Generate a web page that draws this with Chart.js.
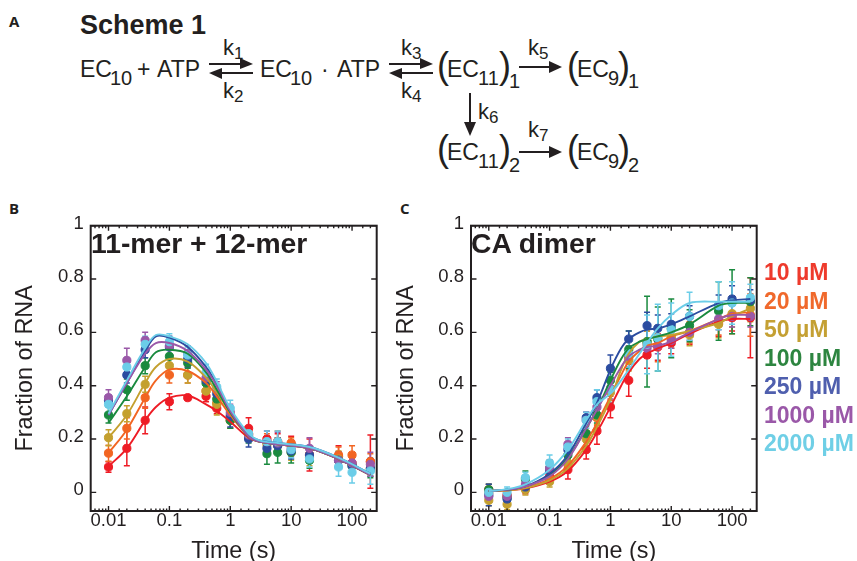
<!DOCTYPE html>
<html>
<head>
<meta charset="utf-8">
<title>Scheme 1</title>
<script src="https://cdn.jsdelivr.net/npm/chart.js@4"></script>
<style>
  html, body { margin: 0; padding: 0; background: #fff; }
  body { width: 857px; height: 561px; overflow: hidden; position: relative; font-family: "Liberation Sans", Arial, sans-serif; color: #231f20; }
  .box { position: absolute; }
  .box canvas { display: block; }
  .letter { position: absolute; font: bold 15px "Open Sans", sans-serif; line-height: 15px; }
  .panel-title { position: absolute; font: bold 28.3px "Liberation Sans", Arial, sans-serif; line-height: 28px; white-space: nowrap; }
  .conc { position: absolute; left: 764px; font: bold 23px "Liberation Sans", Arial, sans-serif; line-height: 24px; white-space: nowrap; }
  svg { position: absolute; left: 0; top: 0; }
  svg text { font-family: "Liberation Sans", Arial, sans-serif; fill: #231f20; }
  .main { font-size: 23px; }
  .sub { font-size: 20px; }
  .paren { font-size: 36px; }
  .k { font-size: 22px; }
  .ksub { font-size: 17px; }
</style>
</head>
<body>

<svg width="660" height="190" id="scheme">
  <text x="80" y="34" font-size="27" font-weight="bold">Scheme 1</text>

  <text class="main" x="80" y="77">EC</text><text class="sub" x="110" y="85">10</text>
  <text class="main" x="137" y="77">+</text><text class="main" x="157" y="77">ATP</text>
  <text class="main" x="260" y="77">EC</text><text class="sub" x="290" y="85">10</text>
  <text class="main" x="321" y="77">·</text><text class="main" x="337" y="77">ATP</text>

  <text class="paren" x="437" y="78">(</text><text class="main" x="447" y="77">EC</text><text class="sub" x="478" y="85">11</text>
  <text class="paren" x="499" y="78">)</text><text class="sub" x="509" y="88">1</text>
  <text class="paren" x="567" y="78">(</text><text class="main" x="577" y="77">EC</text><text class="sub" x="608" y="85">9</text>
  <text class="paren" x="618" y="78">)</text><text class="sub" x="628" y="88">1</text>

  <text class="paren" x="437" y="161">(</text><text class="main" x="447" y="160">EC</text><text class="sub" x="478" y="168">11</text>
  <text class="paren" x="499" y="161">)</text><text class="sub" x="509" y="172">2</text>
  <text class="paren" x="567" y="161">(</text><text class="main" x="577" y="160">EC</text><text class="sub" x="608" y="168">9</text>
  <text class="paren" x="618" y="161">)</text><text class="sub" x="628" y="172">2</text>

  <text class="k" x="223" y="55">k</text><text class="ksub" x="234" y="59">1</text>
  <text class="k" x="223" y="98">k</text><text class="ksub" x="234" y="102">2</text>
  <text class="k" x="401" y="55">k</text><text class="ksub" x="412" y="59">3</text>
  <text class="k" x="401" y="98">k</text><text class="ksub" x="412" y="102">4</text>
  <text class="k" x="528" y="55">k</text><text class="ksub" x="539" y="59">5</text>
  <text class="k" x="478" y="119">k</text><text class="ksub" x="489" y="123">6</text>
  <text class="k" x="528" y="137">k</text><text class="ksub" x="539" y="141">7</text>

  <g stroke="#231f20" stroke-width="2" fill="#231f20">
    <line x1="209" y1="64" x2="242" y2="64"/><polygon points="253,64 240,58 240,69" stroke="none"/>
    <line x1="220" y1="73" x2="253" y2="73"/><polygon points="209,73 222,68 222,79" stroke="none"/>
    <line x1="389" y1="64" x2="422" y2="64"/><polygon points="433,64 420,58 420,69" stroke="none"/>
    <line x1="400" y1="73" x2="433" y2="73"/><polygon points="389,73 402,68 402,79" stroke="none"/>
    <line x1="519" y1="67" x2="550" y2="67"/><polygon points="562,67 549,61 549,73" stroke="none"/>
    <line x1="519" y1="152" x2="550" y2="152"/><polygon points="562,152 549,146 549,158" stroke="none"/>
    <line x1="470" y1="93" x2="470" y2="125"/><polygon points="470,136 464,122 476,122" stroke="none"/>
  </g>
</svg>

<div class="letter" style="left:9px;top:14px">A</div>
<div class="letter" style="left:9px;top:201px">B</div>
<div class="letter" style="left:400px;top:201px">C</div>

<div class="box" style="left:0;top:195px;width:400px;height:366px"><canvas id="chartB" width="400" height="366"></canvas></div>
<div class="box" style="left:390px;top:195px;width:467px;height:366px"><canvas id="chartC" width="467" height="366"></canvas></div>

<div class="panel-title" style="left:91px;top:229px">11-mer + 12-mer</div>
<div class="panel-title" style="left:471px;top:229px">CA dimer</div>

<div id="legend"></div>

<script>
const seriesNames = ["10 µM", "20 µM", "50 µM", "100 µM", "250 µM", "1000 µM", "2000 µM"];
const markColors = ["#ee1c25", "#f26522", "#c4a02f", "#1a8a3f", "#2b4ca0", "#9a58a8", "#6bcde8"];
const legendColors = ["#ee3a2c", "#f0692c", "#c4a033", "#2d8540", "#4f5fae", "#9a58a8", "#6fcfe6"];
const legendTops = [260, 289, 317, 346, 374, 403, 431];

const timePoints = [0.01, 0.02, 0.04, 0.1, 0.2, 0.4, 0.6, 1, 2, 4, 6, 10, 20, 60, 100, 200];

// panel B, 11-mer + 12-mer
const bValues = [
  [0.095, 0.165, 0.27, 0.34, 0.355, 0.36, 0.315, 0.27, 0.24, 0.2, 0.19, 0.18, 0.14, 0.135, 0.11, 0.115],
  [0.147, 0.24, 0.355, 0.44, 0.44, 0.38, 0.335, 0.29, 0.22, 0.19, 0.19, 0.185, 0.14, 0.14, 0.14, 0.115],
  [0.205, 0.295, 0.405, 0.475, 0.44, 0.38, 0.33, 0.27, 0.215, 0.18, 0.175, 0.15, 0.13, 0.125, 0.105, 0.09],
  [0.29, 0.385, 0.475, 0.51, 0.485, 0.41, 0.35, 0.27, 0.205, 0.145, 0.15, 0.15, 0.12, 0.12, 0.1, 0.085],
  [0.345, 0.44, 0.535, 0.545, 0.5, 0.42, 0.37, 0.285, 0.2, 0.165, 0.175, 0.155, 0.14, 0.12, 0.1, 0.09],
  [0.355, 0.495, 0.57, 0.55, 0.52, 0.43, 0.385, 0.3, 0.215, 0.19, 0.185, 0.165, 0.165, 0.12, 0.11, 0.105],
  [0.33, 0.47, 0.555, 0.565, 0.515, 0.45, 0.395, 0.315, 0.22, 0.19, 0.19, 0.16, 0.125, 0.095, 0.075, 0.08]
];
const bErrors = [
  [0.02, 0.065, 0.05, 0.03, 0.01, 0.02, 0.02, 0.03, 0.04, 0.03, 0.03, 0.03, 0.06, 0.04, 0.03, 0.1],
  [0.03, 0.04, 0.04, 0.03, 0.03, 0.03, 0.03, 0.03, 0.02, 0.03, 0.04, 0.02, 0.02, 0.03, 0.035, 0.03],
  [0.03, 0.03, 0.03, 0.03, 0.03, 0.03, 0.04, 0.03, 0.02, 0.03, 0.03, 0.03, 0.03, 0.03, 0.03, 0.03],
  [0.03, 0.04, 0.03, 0.03, 0.02, 0.03, 0.03, 0.03, 0.02, 0.04, 0.04, 0.04, 0.03, 0.03, 0.03, 0.03],
  [0.02, 0.03, 0.03, 0.04, 0.03, 0.03, 0.03, 0.04, 0.03, 0.03, 0.03, 0.03, 0.03, 0.03, 0.03, 0.03],
  [0.03, 0.045, 0.03, 0.03, 0.03, 0.03, 0.03, 0.03, 0.02, 0.04, 0.04, 0.03, 0.04, 0.03, 0.03, 0.045],
  [0.03, 0.03, 0.03, 0.03, 0.03, 0.03, 0.03, 0.03, 0.02, 0.04, 0.04, 0.03, 0.03, 0.035, 0.04, 0.05]
];
const bFitTimes = [0.01, 0.02, 0.04, 0.06, 0.1, 0.2, 0.4, 0.6, 1, 2, 3, 6, 20, 60, 200];
const bFits = [
  [0.097, 0.165, 0.27, 0.32, 0.355, 0.363, 0.33, 0.305, 0.265, 0.205, 0.19, 0.18, 0.165, 0.125, 0.065],
  [0.147, 0.235, 0.355, 0.42, 0.46, 0.455, 0.41, 0.36, 0.29, 0.21, 0.19, 0.18, 0.165, 0.125, 0.065],
  [0.205, 0.29, 0.41, 0.47, 0.5, 0.49, 0.43, 0.375, 0.3, 0.21, 0.19, 0.18, 0.165, 0.125, 0.065],
  [0.26, 0.36, 0.47, 0.525, 0.535, 0.52, 0.45, 0.385, 0.3, 0.21, 0.19, 0.18, 0.165, 0.125, 0.065],
  [0.29, 0.41, 0.53, 0.585, 0.58, 0.545, 0.47, 0.405, 0.305, 0.215, 0.195, 0.185, 0.17, 0.13, 0.07],
  [0.29, 0.41, 0.52, 0.56, 0.56, 0.53, 0.46, 0.4, 0.305, 0.21, 0.19, 0.18, 0.165, 0.125, 0.065],
  [0.295, 0.42, 0.54, 0.59, 0.585, 0.555, 0.485, 0.415, 0.315, 0.22, 0.195, 0.185, 0.17, 0.13, 0.07]
];

// panel C, CA dimer
const cValues = [
  [0.01, -0.01, 0.015, 0.06, 0.085, 0.16, 0.23, 0.32, 0.42, 0.515, 0.545, 0.56, 0.595, 0.635, 0.655, 0.655],
  [0, -0.015, 0.02, 0.05, 0.105, 0.22, 0.28, 0.385, 0.5, 0.555, 0.55, 0.58, 0.6, 0.64, 0.665, 0.665],
  [-0.03, -0.045, 0.01, 0.04, 0.11, 0.2, 0.285, 0.375, 0.495, 0.565, 0.58, 0.58, 0.59, 0.63, 0.67, 0.69],
  [0.01, -0.02, 0.05, 0.09, 0.14, 0.22, 0.29, 0.42, 0.535, 0.565, 0.575, 0.615, 0.625, 0.68, 0.715, 0.715],
  [-0.01, -0.025, 0.02, 0.08, 0.16, 0.28, 0.355, 0.465, 0.575, 0.625, 0.615, 0.63, 0.66, 0.7, 0.725, 0.72],
  [-0.015, -0.015, 0.03, 0.09, 0.18, 0.27, 0.32, 0.39, 0.51, 0.54, 0.55, 0.57, 0.6, 0.65, 0.66, 0.66],
  [0, 0, 0.055, 0.11, 0.17, 0.27, 0.34, 0.385, 0.52, 0.555, 0.58, 0.61, 0.66, 0.7, 0.71, 0.73]
];
const cErrors = [
  [0.02, 0.02, 0.02, 0.02, 0.035, 0.035, 0.05, 0.04, 0.06, 0.05, 0.05, 0.04, 0.04, 0.05, 0.05, 0.15],
  [0.02, 0.02, 0.02, 0.02, 0.02, 0.03, 0.03, 0.04, 0.04, 0.05, 0.06, 0.04, 0.04, 0.05, 0.07, 0.08],
  [0.02, 0.02, 0.02, 0.02, 0.03, 0.03, 0.03, 0.04, 0.04, 0.04, 0.04, 0.04, 0.04, 0.05, 0.05, 0.05],
  [0.02, 0.02, 0.03, 0.03, 0.03, 0.03, 0.03, 0.03, 0.07, 0.17, 0.12, 0.11, 0.06, 0.11, 0.12, 0.09],
  [0.04, 0.02, 0.02, 0.03, 0.03, 0.02, 0.03, 0.05, 0.03, 0.05, 0.05, 0.04, 0.04, 0.04, 0.05, 0.04],
  [0.02, 0.02, 0.02, 0.03, 0.025, 0.03, 0.03, 0.04, 0.04, 0.03, 0.03, 0.03, 0.03, 0.04, 0.04, 0.04],
  [0.02, 0.02, 0.02, 0.03, 0.03, 0.03, 0.045, 0.05, 0.05, 0.11, 0.125, 0.1, 0.09, 0.09, 0.08, 0.05]
];
const cFitTimes = [0.01, 0.02, 0.04, 0.1, 0.2, 0.4, 0.6, 1, 1.5, 2, 3, 4, 6, 10, 20, 60, 100, 200];
const cFits = [
  [0.005, 0.008, 0.015, 0.04, 0.08, 0.16, 0.225, 0.32, 0.4, 0.45, 0.5, 0.52, 0.54, 0.56, 0.595, 0.64, 0.65, 0.65],
  [0.005, 0.008, 0.018, 0.05, 0.1, 0.19, 0.26, 0.36, 0.44, 0.49, 0.53, 0.55, 0.56, 0.585, 0.605, 0.65, 0.67, 0.675],
  [0.005, 0.008, 0.016, 0.045, 0.09, 0.175, 0.245, 0.35, 0.46, 0.52, 0.565, 0.575, 0.585, 0.59, 0.605, 0.635, 0.66, 0.69],
  [0.005, 0.01, 0.022, 0.065, 0.13, 0.24, 0.31, 0.42, 0.5, 0.54, 0.565, 0.575, 0.585, 0.6, 0.63, 0.7, 0.71, 0.71],
  [0.005, 0.01, 0.022, 0.07, 0.14, 0.26, 0.335, 0.46, 0.54, 0.575, 0.6, 0.61, 0.615, 0.63, 0.66, 0.71, 0.72, 0.725],
  [0.005, 0.01, 0.022, 0.06, 0.125, 0.24, 0.31, 0.4, 0.47, 0.51, 0.535, 0.545, 0.55, 0.565, 0.6, 0.65, 0.665, 0.665],
  [0.005, 0.012, 0.03, 0.085, 0.16, 0.27, 0.33, 0.37, 0.42, 0.46, 0.52, 0.56, 0.615, 0.665, 0.71, 0.715, 0.715, 0.715]
];

const yMin = -0.07, yMax = 1;
const xMin = 0.0051, xMax = 254;
const inkColor = "#231f20";

// error bars under the dots, frame and inward ticks on top
const framePlugin = {
  id: "frame",
  beforeDatasetsDraw(chart) {
    const ctx = chart.ctx, x = chart.scales.x, y = chart.scales.y;
    const errors = chart.options.plugins.frame.errors;
    const values = chart.options.plugins.frame.values;
    ctx.save();
    ctx.lineWidth = 1.5;
    values.forEach((row, i) => {
      ctx.strokeStyle = markColors[i];
      row.forEach((v, j) => {
        const px = x.getPixelForValue(timePoints[j]);
        const top = y.getPixelForValue(v + errors[i][j]);
        const bottom = y.getPixelForValue(v - errors[i][j]);
        ctx.beginPath();
        ctx.moveTo(px, top); ctx.lineTo(px, bottom);
        ctx.moveTo(px - 3, top); ctx.lineTo(px + 3, top);
        ctx.moveTo(px - 3, bottom); ctx.lineTo(px + 3, bottom);
        ctx.stroke();
      });
    });
    ctx.restore();
  },
  afterDraw(chart) {
    const ctx = chart.ctx, x = chart.scales.x, y = chart.scales.y, a = chart.chartArea;
    ctx.save();
    ctx.strokeStyle = inkColor;
    ctx.lineWidth = 1.4;
    ctx.beginPath();
    x.ticks.forEach(t => {
      if (t.value === xMin || t.value === xMax) return;
      const px = x.getPixelForValue(t.value);
      const len = Number.isInteger(Math.round(Math.log10(t.value) * 1000) / 1000) ? 5 : 2.5;
      ctx.moveTo(px, a.bottom); ctx.lineTo(px, a.bottom - len);
      ctx.moveTo(px, a.top); ctx.lineTo(px, a.top + len);
    });
    y.ticks.forEach(t => {
      const py = y.getPixelForValue(t.value);
      ctx.moveTo(a.left, py); ctx.lineTo(a.left + 5.5, py);
      ctx.moveTo(a.right, py); ctx.lineTo(a.right - 5.5, py);
    });
    ctx.stroke();
    ctx.lineWidth = 2;
    ctx.strokeRect(a.left, a.top, a.right - a.left, a.bottom - a.top);
    ctx.restore();
  }
};

function makeChart(id, leftWidth, rightGap, titleGap, values, errors, fitTimes, fits) {
  const datasets = [];
  seriesNames.forEach((name, i) => {
    datasets.push({
      label: name,
      data: timePoints.map((t, j) => ({ x: t, y: values[i][j] })),
      backgroundColor: markColors[i],
      borderColor: markColors[i],
      pointRadius: 4.1,
      showLine: false,
      order: 100 - i
    });
    datasets.push({
      label: name + " fit",
      data: fitTimes.map((t, j) => ({ x: t, y: fits[i][j] })),
      borderColor: markColors[i],
      borderWidth: 1.9,
      pointRadius: 0,
      showLine: true,
      tension: 0.35,
      order: 50 - i
    });
  });

  return new Chart(id, {
    type: "scatter",
    data: { datasets: datasets },
    options: {
      responsive: false,
      animation: false,
      layout: { padding: { top: 30.7, right: rightGap, left: 0, bottom: 0 } },
      plugins: {
        legend: { display: false },
        tooltip: { enabled: false },
        frame: { values: values, errors: errors }
      },
      scales: {
        x: {
          type: "logarithmic",
          min: xMin,
          max: xMax,
          grid: { display: false, drawTicks: false },
          border: { display: false },
          afterFit(scale) { scale.height = 50; },
          ticks: {
            autoSkip: false,
            maxRotation: 0,
            padding: -1,
            color: inkColor,
            font: { family: "Liberation Sans", size: 18.5 },
            callback(v) {
              const e = Math.log10(v);
              return Math.abs(e - Math.round(e)) < 1e-6 ? String(v) : "";
            }
          },
          title: {
            display: true,
            text: "Time (s)",
            color: inkColor,
            font: { family: "Liberation Sans", size: 23.4, lineHeight: 1 },
            padding: { top: 0, bottom: -2 }
          }
        },
        y: {
          min: yMin,
          max: yMax,
          grid: { display: false, drawTicks: false },
          border: { display: false },
          afterFit(scale) { scale.width = leftWidth; },
          ticks: {
            stepSize: 0.2,
            includeBounds: false,
            padding: 7,
            labelOffset: -2,
            color: inkColor,
            font: { family: "Liberation Sans", size: 18.5 },
            callback(v) { return String(v); }
          },
          title: {
            display: true,
            text: "Fraction of RNA",
            color: inkColor,
            font: { family: "Liberation Sans", size: 23.4, lineHeight: 1 },
            padding: { top: titleGap, bottom: 0 }
          }
        }
      }
    },
    plugins: [framePlugin]
  });
}

makeChart("chartB", 90.7, 23.3, 14, bValues, bErrors, bFitTimes, bFits);
makeChart("chartC", 81, 100.3, 5, cValues, cErrors, cFitTimes, cFits);

const legend = document.getElementById("legend");
seriesNames.forEach((name, i) => {
  const el = document.createElement("div");
  el.className = "conc";
  el.style.top = legendTops[i] + "px";
  el.style.color = legendColors[i];
  el.textContent = name;
  legend.appendChild(el);
});
</script>
</body>
</html>
